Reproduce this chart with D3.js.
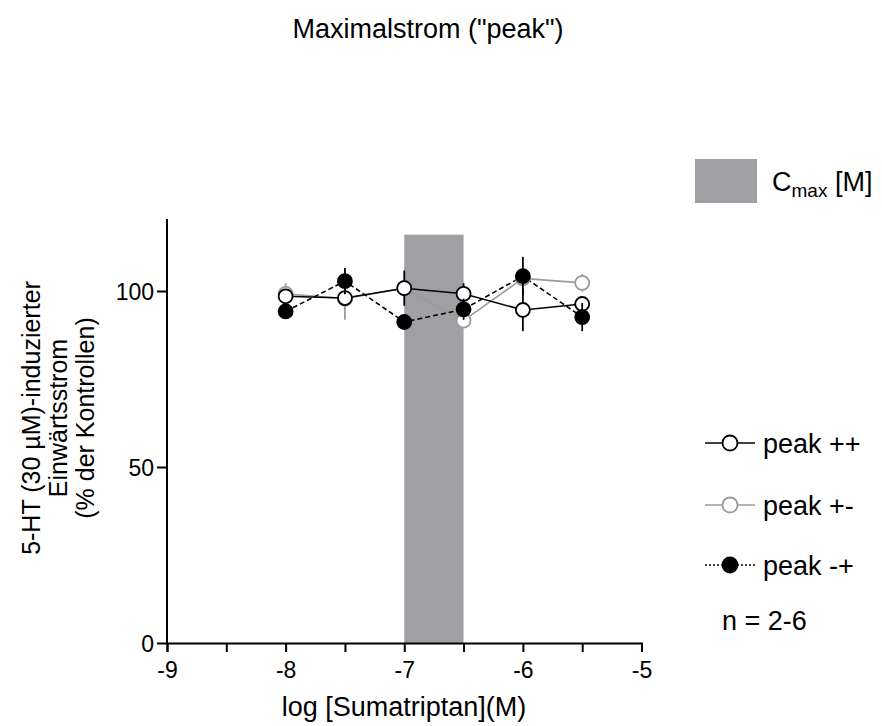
<!DOCTYPE html>
<html><head><meta charset="utf-8">
<script src="https://cdn.jsdelivr.net/npm/d3@7"></script>
<style>body{margin:0;background:#fff}text{font-family:"Liberation Sans",Arial,sans-serif;fill:#000}</style>
</head><body><svg id="c" width="882" height="726"></svg>
<script>
const xTicks = [-9,-8,-7,-6,-5];
const yTicks = [0,50,100];
const concentrations = [-8,-7.5,-7,-6.5,-6,-5.5];
const peakPP = [98.5,98,100.8,99.2,94.6,96.3];
const peakPPerr = [1.5,2,5,3,6,2];
const peakPM = [99.2,97.8,100.8,91.6,103.6,102.3];
const peakPMerr = [3,6,2,2,2,2.5];
const peakMP = [94.2,102.8,91.2,94.8,104.2,92.6];
const peakMPerr = [1.5,3.7,1,3,5.5,4];
const cmaxBand = [-7,-6.5];
const cmaxTop = 116;

const FONT = "Liberation Sans, Arial, sans-serif";
const svg = d3.select("#c");
const x = d3.scaleLinear().domain([-9,-5]).range([167,641.5]);
const y = d3.scaleLinear().domain([0,120]).range([643,220.6]);

svg.append("rect").attr("x",x(cmaxBand[0])).attr("width",x(cmaxBand[1])-x(cmaxBand[0]))
  .attr("y",y(cmaxTop)).attr("height",y(0)-y(cmaxTop)).attr("fill","#a09fa4");

const xAxis = svg.append("g").attr("transform","translate(0,643)")
  .call(d3.axisBottom(x).tickValues(d3.range(-9,-4.99,0.5)).tickSize(9).tickFormat(d=>xTicks.includes(d)?String(d):""));
const yAxis = svg.append("g").attr("transform","translate(167,0)")
  .call(d3.axisLeft(y).tickValues(yTicks).tickSize(10).tickFormat(d3.format("d")));
[xAxis,yAxis].forEach(g=>{
  g.select(".domain").attr("stroke","#000").attr("stroke-width",2);
  g.selectAll(".tick line").attr("stroke","#000").attr("stroke-width",2);
  g.selectAll(".tick text").attr("font-size",23).attr("font-family",FONT).attr("fill","#000");
});
yAxis.select(".domain").attr("d","M0,643V219");
xAxis.selectAll(".tick text").attr("y",35).attr("dy",0);
yAxis.selectAll(".tick text").attr("x",-13).attr("dy","0.36em");

const series = [
  {vals:peakPM, err:peakPMerr, stroke:"#9a9a9a", fill:"#fff", dash:null, ecol:"#9a9a9a"},
  {vals:peakPP, err:peakPPerr, stroke:"#000", fill:"#fff", dash:null, ecol:"#000"},
  {vals:peakMP, err:peakMPerr, stroke:"#000", fill:"#000", dash:"5,3", ecol:"#000"},
];
const line = d3.line().x((d,i)=>x(concentrations[i])).y(d=>y(d));
series.forEach(s=>{
  svg.append("path").attr("d",line(s.vals)).attr("fill","none").attr("stroke",s.stroke)
    .attr("stroke-width",1.6).attr("stroke-dasharray",s.dash);
});
series.forEach(s=>{
  const g = svg.append("g");
  s.vals.forEach((v,i)=>{
    g.append("line").attr("x1",x(concentrations[i])).attr("x2",x(concentrations[i]))
      .attr("y1",y(v-s.err[i])).attr("y2",y(v+s.err[i])).attr("stroke",s.ecol).attr("stroke-width",1.8);
  });
  s.vals.forEach((v,i)=>{
    g.append("circle").attr("cx",x(concentrations[i])).attr("cy",y(v)).attr("r",7)
      .attr("fill",s.fill).attr("stroke",s.stroke).attr("stroke-width",1.8);
  });
});

svg.append("text").attr("x",428).attr("y",38).attr("text-anchor","middle").attr("font-size",27).text('Maximalstrom ("peak")');
svg.append("text").attr("x",404).attr("y",716).attr("text-anchor","middle").attr("font-size",27).text("log [Sumatriptan](M)");
const yl = svg.append("text").attr("transform","translate(0,418) rotate(-90)").attr("text-anchor","middle").attr("font-size",25);
["5-HT (30 µM)-induzierter","Einwärtsstrom","(% der Kontrollen)"].forEach((t,i)=>{
  yl.append("tspan").attr("x",0).attr("y",40+i*27).text(t);
});

svg.append("rect").attr("x",695).attr("y",159).attr("width",62).attr("height",44).attr("fill","#a09fa4");
const ct = svg.append("text").attr("x",772).attr("y",191).attr("font-size",27);
ct.append("tspan").text("C");
ct.append("tspan").attr("dy",6).attr("font-size",19).text("max");
ct.append("tspan").attr("dy",-6).text(" [M]");

const legendItems = [
  {label:"peak ++", stroke:"#000", fill:"#fff", dash:null, y:443},
  {label:"peak +-", stroke:"#9a9a9a", fill:"#fff", dash:null, y:505},
  {label:"peak -+", stroke:"#000", fill:"#000", dash:"2,2", y:565},
];
legendItems.forEach(l=>{
  svg.append("line").attr("x1",705).attr("x2",755).attr("y1",l.y).attr("y2",l.y)
    .attr("stroke",l.stroke).attr("stroke-width",1.6).attr("stroke-dasharray",l.dash);
  svg.append("circle").attr("cx",730).attr("cy",l.y).attr("r",7.5).attr("fill",l.fill).attr("stroke",l.stroke).attr("stroke-width",1.8);
  svg.append("text").attr("x",763).attr("y",l.y+10).attr("font-size",27).text(l.label);
});
svg.append("text").attr("x",722).attr("y",630).attr("font-size",27).text("n = 2-6");
</script></body></html>
